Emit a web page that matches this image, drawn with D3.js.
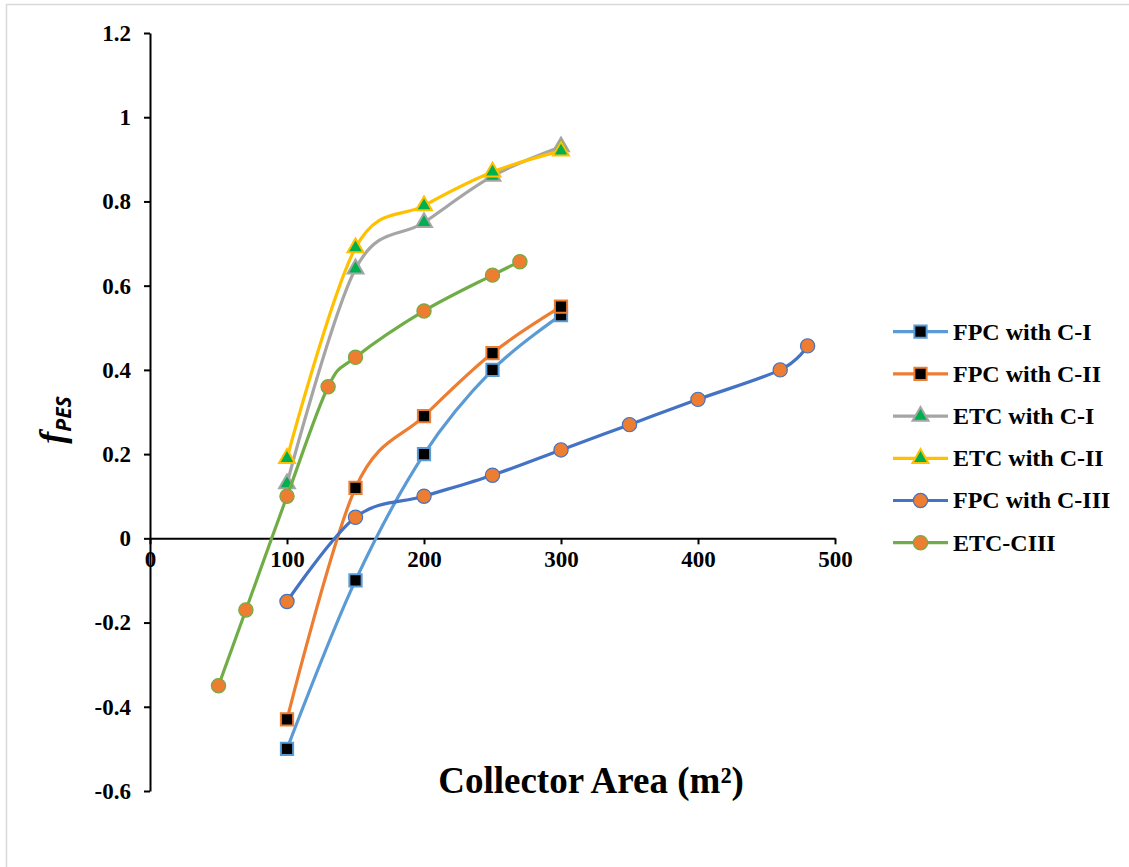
<!DOCTYPE html>
<html>
<head>
<meta charset="utf-8">
<script src="https://cdn.jsdelivr.net/npm/d3@7"></script>
<style>
  body { margin: 0; background: #fff; }
  text { font-family: "Liberation Serif", "Times New Roman", serif; font-weight: bold; fill: #000; }
</style>
</head>
<body>
<div id="chart"></div>
<script>
// data
var seriesNames = ["FPC with C-I", "FPC with C-II", "ETC with C-I", "ETC with C-II", "FPC with C-III", "ETC-CIII"];
var areasA = [100, 150, 200, 250, 300];
var fpcC1 = [-0.5, -0.1, 0.2, 0.4, 0.53];
var fpcC2 = [-0.43, 0.12, 0.29, 0.44, 0.55];
var etcC1 = [0.13, 0.64, 0.75, 0.86, 0.93];
var etcC2 = [0.19, 0.69, 0.79, 0.87, 0.92];
var areasFpcC3 = [100, 150, 200, 250, 300, 350, 400, 460, 480];
var fpcC3 = [-0.15, 0.05, 0.1, 0.15, 0.21, 0.27, 0.33, 0.40, 0.457];
var areasEtcC3 = [50, 70, 100, 130, 150, 200, 250, 270];
var etcC3 = [-0.35, -0.17, 0.1, 0.36, 0.43, 0.54, 0.625, 0.657];
var xTicks = [0, 100, 200, 300, 400, 500];
var yTicks = [-0.6, -0.4, -0.2, 0, 0.2, 0.4, 0.6, 0.8, 1, 1.2];

var lineColors = ["#5B9BD5", "#ED7D31", "#A5A5A5", "#FFC000", "#4472C4", "#70AD47"];
var markerFill = ["#000", "#000", "#00B050", "#00B050", "#ED7D31", "#ED7D31"];
var markerType = ["square", "square", "triangle", "triangle", "circle", "circle"];

var allX = [areasA, areasA, areasA, areasA, areasFpcC3, areasEtcC3];
var allY = [fpcC1, fpcC2, etcC1, etcC2, fpcC3, etcC3];
var series = seriesNames.map(function(name, i){
  return {name: name, color: lineColors[i], fill: markerFill[i], type: markerType[i],
          values: allX[i].map(function(x, j){ return {x: x, y: allY[i][j]}; })};
});

var W = 1129, H = 867;
var svg = d3.select("#chart").append("svg")
    .attr("width", W)
    .attr("height", H);

// outer frame (only top and left visible)
svg.append("line").attr("x1", 6).attr("y1", 4.5).attr("x2", W).attr("y2", 4.5)
   .attr("stroke", "#d9d9d9").attr("stroke-width", 1.5);
svg.append("line").attr("x1", 6.5).attr("y1", 4).attr("x2", 6.5).attr("y2", H)
   .attr("stroke", "#d9d9d9").attr("stroke-width", 1.5);

var xScale = d3.scaleLinear().domain([0, 500]).range([150, 835]);
var yScale = d3.scaleLinear().domain([-0.6, 1.2]).range([791, 33]);

// axes
var xAxis = d3.axisBottom(xScale).tickValues(xTicks).tickSize(6).tickSizeOuter(0)
    .tickFormat(d3.format("d"));
var xg = svg.append("g").attr("transform", "translate(0," + yScale(0) + ")").call(xAxis);
xg.select(".domain").attr("stroke", "#000").attr("stroke-width", 2);
xg.selectAll(".tick line").attr("stroke", "#000").attr("stroke-width", 2);
xg.selectAll(".tick text").attr("font-size", "23px").attr("fill", "#000")
  .attr("font-family", "Liberation Serif").attr("font-weight", "bold")
  .attr("y", 21).attr("dy", "0.35em");

// Excel style labels: plain hyphen for negatives
var yAxis = d3.axisLeft(yScale).tickValues(yTicks).tickSize(6).tickSizeOuter(0)
    .tickFormat(function(d){ return String(+d.toFixed(1)); });
var yg = svg.append("g").attr("transform", "translate(" + xScale(0) + ",0)").call(yAxis);
yg.select(".domain").attr("stroke", "#000").attr("stroke-width", 2);
yg.selectAll(".tick line").attr("stroke", "#000").attr("stroke-width", 2);
yg.selectAll(".tick text").attr("font-size", "23px").attr("fill", "#000")
  .attr("font-family", "Liberation Serif").attr("font-weight", "bold")
  .attr("x", -19);

// axis titles
svg.append("text")
  .attr("x", 591).attr("y", 793)
  .attr("text-anchor", "middle")
  .attr("font-size", "37px")
  .text("Collector Area (m²)");

var ylab = svg.append("text")
  .attr("transform", "translate(64,420) rotate(-90)")
  .attr("text-anchor", "middle");
ylab.append("tspan").attr("font-size", "36px").attr("font-style", "italic").text("f");
ylab.append("tspan").attr("font-size", "21px").attr("font-style", "italic")
  .attr("font-family", "Open Sans, DejaVu Sans, sans-serif").attr("dy", 7).text("PES");

// markers
var sym = {
  square: d3.symbol().type(d3.symbolSquare).size(150),
  triangle: d3.symbol().type(d3.symbolTriangle).size(110),
  circle: d3.symbol().type(d3.symbolCircle).size(160)
};
function drawMarker(sel, s) {
  sel.append("path")
    .attr("d", sym[s.type]())
    .attr("fill", s.fill)
    .attr("stroke", s.color)
    .attr("stroke-width", s.type == "circle" ? 1.2 : 2);
}

var line = d3.line()
  .x(function(d){ return xScale(d.x); })
  .y(function(d){ return yScale(d.y); })
  .curve(d3.curveCardinal.tension(0));

var plot = svg.append("g");
series.forEach(function(s){
  plot.append("path").datum(s.values)
    .attr("d", line)
    .attr("fill", "none")
    .attr("stroke", s.color)
    .attr("stroke-width", 3.2)
    .attr("stroke-linejoin", "round");
  plot.selectAll(null).data(s.values).enter().append("g")
    .attr("transform", function(d){ return "translate(" + xScale(d.x) + "," + yScale(d.y) + ")"; })
    .each(function(){ drawMarker(d3.select(this), s); });
});

// legend
var legend = svg.append("g").attr("transform", "translate(893,331.7)");
series.forEach(function(s, i){
  var row = legend.append("g").attr("transform", "translate(0," + (i * 42.2) + ")");
  row.append("line").attr("x1", 0).attr("x2", 55).attr("y1", 0).attr("y2", 0)
    .attr("stroke", s.color).attr("stroke-width", 3.2);
  var m = row.append("g").attr("transform", "translate(27.5,0)");
  drawMarker(m, s);
  row.append("text").attr("x", 60).attr("y", 0).attr("dy", "0.33em")
    .attr("font-size", "24px").text(s.name);
});
</script>
</body>
</html>
